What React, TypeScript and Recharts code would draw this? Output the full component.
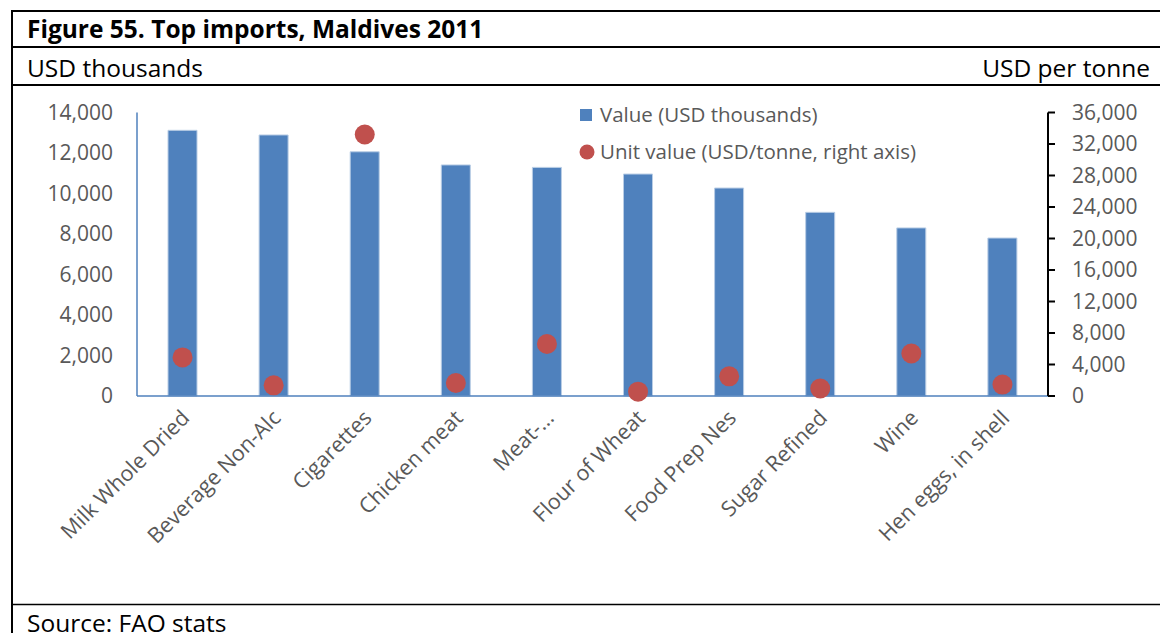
import React from 'react';
import { ComposedChart, Bar, Line, XAxis, YAxis } from 'recharts';

const categories = [
  'Milk Whole Dried',
  'Beverage Non-Alc',
  'Cigarettes',
  'Chicken meat',
  'Meat-...',
  'Flour of Wheat',
  'Food Prep Nes',
  'Sugar Refined',
  'Wine',
  'Hen eggs, in shell',
];
const valueUsdThousands = [13120, 12890, 12060, 11410, 11290, 10960, 10270, 9070, 8300, 7800];
const unitValueUsdTonne = [4900, 1350, 33200, 1650, 6600, 550, 2500, 950, 5400, 1450];
const leftTicks = [0, 2000, 4000, 6000, 8000, 10000, 12000, 14000];
const rightTicks = [0, 4000, 8000, 12000, 16000, 20000, 24000, 28000, 32000, 36000];

const title = 'Figure 55. Top imports, Maldives 2011';
const leftUnit = 'USD thousands';
const rightUnit = 'USD per tonne';
const source = 'Source: FAO stats';
const seriesNames = ['Value (USD thousands)', 'Unit value (USD/tonne, right axis)'];

const data = categories.map((c, i) => ({
  name: c,
  value: valueUsdThousands[i],
  unit: unitValueUsdTonne[i],
}));

const FONT = '"Open Sans", Lato, sans-serif';
const BLUE = '#4F81BD';
const RED = '#C0504D';
const GRAY = '#595959';

const fmt = (v: number) => v.toLocaleString('en-US');

const CatTick = (props: any) => {
  const { x, y, payload } = props;
  const ax = x + 3;
  const ay = y + 10;
  return (
    <text
      x={ax}
      y={ay}
      dy="0.35em"
      textAnchor="end"
      transform={`rotate(-45, ${ax}, ${ay})`}
      fill={GRAY}
      fontSize={21.5}
      fontFamily={FONT}
    >
      {payload.value}
    </text>
  );
};

export default function App() {
  return (
    <div style={{ position: 'absolute', left: 0, top: 0, width: 1160, height: 633, background: '#fff', overflow: 'hidden' }}>
      <svg width={1160} height={633} style={{ position: 'absolute', left: 0, top: 0 }}>
        <line x1={11} y1={11} x2={1160} y2={11} stroke="#000" strokeWidth={2} />
        <line x1={12} y1={10} x2={12} y2={633} stroke="#000" strokeWidth={2} />
        <line x1={11} y1={47} x2={1160} y2={47} stroke="#000" strokeWidth={2} />
        <line x1={11} y1={85} x2={1160} y2={85} stroke="#000" strokeWidth={2} />
        <line x1={11} y1={604.5} x2={1160} y2={604.5} stroke="#000" strokeWidth={1.5} />
        <text x={27} y={38} fontFamily={FONT} fontWeight={700} fontSize={24.5} fill="#000">
          {title}
        </text>
        <text x={27} y={77} fontFamily={FONT} fontSize={24.5} fill="#000">
          {leftUnit}
        </text>
        <text x={1150} y={77} textAnchor="end" fontFamily={FONT} fontSize={24.5} fill="#000">
          {rightUnit}
        </text>
        <text x={27} y={632} fontFamily={FONT} fontSize={24.5} fill="#000">
          {source}
        </text>
        <rect x={580} y={109} width={12} height={12} fill={BLUE} />
        <text x={600} y={115} dy="0.35em" fill={GRAY} fontSize={20.5} fontFamily={FONT}>
          {seriesNames[0]}
        </text>
        <circle cx={587} cy={152} r={7.5} fill={RED} />
        <text x={600} y={152} dy="0.35em" fill={GRAY} fontSize={20.5} fontFamily={FONT}>
          {seriesNames[1]}
        </text>
      </svg>
      <div style={{ position: 'absolute', left: 0, top: 85 }}>
        <ComposedChart
          width={1160}
          height={519}
          data={data}
          margin={{ top: 27.5, right: 0, bottom: 0, left: 0 }}
        >
          <XAxis
            dataKey="name"
            height={208}
            interval={0}
            tickLine={false}
            axisLine={{ stroke: BLUE, strokeWidth: 1.5 }}
            tick={<CatTick />}
          />
          <YAxis
            yAxisId="left"
            width={137}
            domain={[0, 14000]}
            ticks={leftTicks}
            tickFormatter={fmt}
            tickLine={false}
            tickSize={0}
            tickMargin={24}
            axisLine={{ stroke: BLUE, strokeWidth: 1.5 }}
            tick={{ fill: GRAY, fontSize: 21, fontFamily: FONT }}
            interval={0}
          />
          <YAxis
            yAxisId="right"
            orientation="right"
            width={112}
            domain={[0, 36000]}
            ticks={rightTicks}
            tickFormatter={fmt}
            tickSize={7}
            tickMargin={17}
            tickLine={{ stroke: '#000', strokeWidth: 2 }}
            axisLine={{ stroke: '#000', strokeWidth: 2 }}
            tick={{ fill: GRAY, fontSize: 21, fontFamily: FONT }}
            interval={0}
          />
          <Bar
            yAxisId="left"
            dataKey="value"
            name={seriesNames[0]}
            fill={BLUE}
            stroke="#B9CDE5"
            strokeWidth={1}
            barSize={29}
            isAnimationActive={false}
          />
          <Line
            yAxisId="right"
            dataKey="unit"
            name={seriesNames[1]}
            stroke="none"
            strokeWidth={0}
            dot={{ r: 10, fill: RED, stroke: 'none' }}
            activeDot={false}
            isAnimationActive={false}
          />
        </ComposedChart>
      </div>
    </div>
  );
}
